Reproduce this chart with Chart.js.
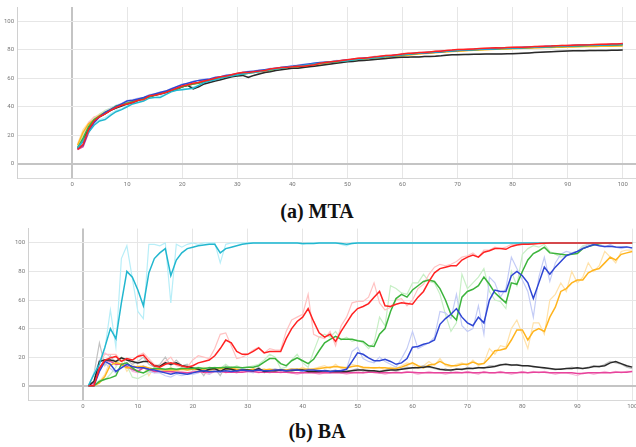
<!DOCTYPE html>
<html>
<head>
<meta charset="utf-8">
<script src="https://cdn.jsdelivr.net/npm/chart.js@4.4.1/dist/chart.umd.min.js"></script>
<style>
html,body{margin:0;padding:0;background:#fff;overflow:hidden;width:636px;height:447px;}
#wrap{position:relative;width:636px;height:447px;overflow:hidden;}
canvas{position:absolute;left:0;}
.cap{position:absolute;left:-1px;width:636px;text-align:center;font-family:"Liberation Serif","DejaVu Serif",serif;font-weight:bold;font-size:20px;line-height:20px;color:#111;}
</style>
</head>
<body>
<div id="wrap">
<canvas id="c1" width="680" height="192" style="top:0px;width:680px;height:192px;"></canvas>
<div class="cap" style="top:201px;">(a) MTA</div>
<canvas id="c2" width="680" height="192" style="top:222px;width:680px;height:192px;"></canvas>
<div class="cap" style="top:421px;">(b) BA</div>
</div>
<script>
// ---- categories / ticks ----
const steps = [1,2,3,4,5,6,7,8,9,10,11,12,13,14,15,16,17,18,19,20,21,22,23,24,25,26,27,28,29,30,31,32,33,34,35,36,37,38,39,40,41,42,43,44,45,46,47,48,49,50,51,52,53,54,55,56,57,58,59,60,61,62,63,64,65,66,67,68,69,70,71,72,73,74,75,76,77,78,79,80,81,82,83,84,85,86,87,88,89,90,91,92,93,94,95,96,97,98,99,100];
const xTicks = [0,10,20,30,40,50,60,70,80,90,100];
const yTicks = [0,20,40,60,80,100];

// ---- (a) MTA : smoothed series ----
const mtaRed = [10,13.5,24,30,33,35,37.5,39.5,41,42, 43,44.5,45,47.5,48,49,50,51.5,53,54.5, 55.5,56.5,57,58,59,60,61,61.5,62.5,63.5, 64,64,64.5,65,65.5,66.5,67,67.5,67.5,68, 68.5,68.5,69,69.5,70.5,71,71.5,72,72.5,73, 73.5,74,74,74.5,75,75.5,76,76,76.5,77, 77.5,77.5,78,78,78.5,79,79,79.5,79.8,80.2, 80.2,80.4,80.6,80.8,81,81.2,81.4,81.3,81.5,81.7, 81.8,81.8,82,82.2,82.3,82.5,82.6,82.8,83,83, 83.2,83.3,83.4,83.5,83.7,83.8,83.9,84,84.1,84.3];
const mtaBlue = [10.5,13,23,29,33,36,38,40,42,44, 44.5,45.5,46.5,48,49,50,51,52.5,54,55.5, 56.5,57.5,58.5,59,59.5,60.5,61,62,62.5,63, 64,64.5,65,65.5,66,66.5,67,67.5,68,68.5, 69,69.5,70,70.5,71,71.3,71.6,72,72.4,72.8, 73.2,73.6,74,74.3,74.7,75,75.4,75.8,76.2,76.6, 77,77.3,77.5,77.8,78,78.3,78.6,79,79.3,79.5, 79.8,80,80.1,80.3,80.4,80.6,80.8,81,81.1,81.3, 81.4,81.6,81.7,81.9,82,82.2,82.3,82.5,82.6,82.7, 82.9,83,83.1,83.2,83.3,83.4,83.5,83.6,83.7,83.8];
const mtaGreen = [11,18,26,31,33.5,36,38,40.5,41.5,42.5, 43.5,44.5,46,47,48,49.5,50.5,51.5,52.5,54, 55,56,56.5,57.5,58.5,59.5,60.5,61,62,62.5, 63,63.5,64.5,65,65.5,66,66.5,67,67.5,68, 68.5,69,69.5,70,70.5,70.8,71.2,71.6,72,72.5, 73,73.4,73.8,74.2,74.6,75,75.3,75.6,76,76.5, 76.9,77.2,77.5,77.8,78,78.3,78.6,78.9,79.2,79.5, 79.7,79.9,80,80.2,80.3,80.5,80.6,80.8,80.9,81.1, 81.2,81.4,81.5,81.7,81.8,82,82.1,82.2,82.3,82.5, 82.6,82.7,82.8,82.9,83,83.1,83.2,83.3,83.4,83.5];
const mtaOrange = [13,22,28,31,34,36,38,40,41,42.5, 43.5,44.5,45.5,47,48.5,49.5,50.5,51.5,52.5,54, 55,56,57,58,58.5,59.5,60,61,61.5,62.5, 63,63.5,64,64.5,65,65.5,66,66.5,67,67.5, 68,68.5,69,69.5,70,70.5,71,71.3,71.6,72, 72.4,72.8,73.2,73.6,74,74.3,74.7,75,75.4,75.8, 76.2,76.6,77,77.3,77.6,77.9,78.2,78.5,78.8,79, 79.2,79.4,79.6,79.8,80,80.1,80.3,80.4,80.6,80.7, 80.9,81,81.1,81.3,81.4,81.5,81.6,81.7,81.8,81.9, 82,82.1,82.2,82.2,82.3,82.4,82.4,82.5,82.6,82.6];
const mtaCyan = [11,16,22,27,30,31,34,36.5,38,40, 42,43,44,46,46.5,46.5,48.5,50.5,51.5,52, 52.5,53,55,57,58,59,60,61,61.5,62.5, 63,63.5,64,64.5,65.5,66,66.5,67,67.5,68, 68.5,69,69.5,70,70.5,71,71.5,71.8,72,72.3, 72.8,73.3,73.7,74,74.3,74.7,75.2,75.6,76,76.5, 76.9,77.3,77.6,77.9,78.2,78.5,78.8,79,79.3,79.6, 79.8,80,80.1,80.3,80.5,80.6,80.7,80.9,81,81.2, 81.3,81.5,81.6,81.8,82,82.1,82.3,82.4,82.5,82.7, 82.8,82.9,83,83.1,83.2,83.3,83.4,83.5,83.6,83.7];
const mtaBlack = [11,16,25,30,33,35,37.5,39,40.5,42, 43,44.5,46,47,48,49,50,51,52.5,54, 55,52.5,54,56,57,58,59,60,61,61.5, 62,60.5,62,63,64,64.5,65.5,66,66.5,67, 67,67.5,68,68.5,69,69.5,70,70.5,71,71.5, 71.8,72.2,72.5,72.8,73.2,73.5,73.8,74.2,74.5,74.8, 74.8,75,75,75.2,75.3,75.5,75.8,76.2,76.5,76.5, 76.6,76.7,76.8,76.9,77,77,77.1,77.1,77.2,77.2, 77.4,77.6,77.8,78,78.2,78.4,78.6,78.8,79,79.2, 79.3,79.3,79.3,79.4,79.4,79.5,79.5,79.6,79.7,79.8];
const mtaMagenta = [10,12,22,29,33,35.5,37.5,39.5,41,42.5, 43.5,45,46,47,48.5,49.5,50.5,51.5,53,54, 55,56,57,58,59,59.5,60.5,61,62,63, 63.5,64,64.5,65,65.5,66,66.5,67,67.5,68, 68.5,69,69.5,70,70.5,71,71.5,71.8,72.2,72.7, 73.2,73.6,74,74.4,74.8,75.2,75.6,75.9,76.3,76.7, 77.1,77.4,77.7,78,78.3,78.6,78.9,79.2,79.5,79.8, 80,80.2,80.3,80.5,80.7,80.8,81,81.1,81.3,81.4, 81.6,81.7,81.9,82,82.2,82.3,82.5,82.6,82.7,82.9, 83,83.1,83.2,83.3,83.4,83.5,83.6,83.7,83.8,84];
// ---- (a) MTA : raw series ----
const mtaRedRaw = [11,18,29,33,34,35.5,38,40,41.5,42.5, 43.5,45,45,48,48,49.5,50,52,53,55, 55.5,57,57,58.5,59,60.5,61,61.5,63,63.5, 64.5,64,64.5,65.5,65.5,67,67,67.5,68,68, 69,68.5,69,70,70.5,71.5,71.5,72,73,73, 73.5,74.5,74,74.5,75.5,75.5,76,76.5,76.5,77.5, 77.5,78,78,78.5,78.5,79,79.5,79.5,80,80.2, 80.5,80.4,80.8,80.8,81.2,81.2,81.5,81.3,81.7,81.7, 82,81.8,82.2,82.2,82.5,82.5,82.8,82.8,83.2,83, 83.4,83.3,83.6,83.5,83.8,83.8,84,84,84.2,84.3];
const mtaBlueRaw = [11,15,25,31,34,36.5,39,41,42.5,44.5, 45,46,46.5,48.5,49,50.5,51,53,54,56, 56.5,58,58.5,59.5,59.5,61,61,62.5,62.5,63.5, 64,65,65,66,66,67,67,68,68,69, 69,70,70,71,71,71.5,71.6,72.5,72.4,73.2, 73.2,74,74,74.6,74.7,75.4,75.4,76.2,76.2,77, 77,77.6,77.5,78.2,78,78.6,78.6,79.3,79.3,79.8, 79.8,80.2,80.1,80.5,80.4,80.8,80.8,81.2,81.1,81.5, 81.4,81.8,81.7,82.1,82,82.4,82.3,82.7,82.6,82.9, 82.9,83.2,83.1,83.4,83.3,83.6,83.5,83.8,83.7,83.9];
const mtaGreenRaw = [12,20,28,32,35,37.5,39,41,41.5,43, 43.5,45,46,47.5,48,50,50.5,52,52.5,54.5, 55,56.5,56.5,58,58.5,60,60.5,61.5,62,63, 63,64,64.5,65.5,65.5,66.5,66.5,67.5,67.5,68.5, 68.5,69.5,69.5,70.5,70.5,71.2,71.2,72,72,72.8, 73,73.7,73.8,74.5,74.6,75.3,75.3,75.9,76,76.8, 76.9,77.5,77.5,78.1,78,78.6,78.6,79.2,79.2,79.8, 79.7,80.1,80,80.4,80.3,80.7,80.6,81,80.9,81.3, 81.2,81.6,81.5,81.9,81.8,82.2,82.1,82.4,82.3,82.7, 82.6,82.9,82.8,83.1,83,83.3,83.2,83.5,83.4,83.6];
const mtaOrangeRaw = [14,24,29,32,35,36.5,39,40.5,41.5,43, 43.5,45,45.5,47.5,48.5,50,50.5,52,52.5,54.5, 55,56.5,57,58.5,58.5,60,60,61.5,61.5,63, 63,64,64,65,65,66,66,67,67,68, 68,69,69,70,70,71,71,71.6,71.6,72.3, 72.4,73.1,73.2,73.9,74,74.6,74.7,75.3,75.4,76.1, 76.2,76.9,77,77.6,77.6,78.2,78.2,78.8,78.8,79.2, 79.2,79.6,79.6,80,80,80.3,80.3,80.6,80.6,80.9, 80.9,81.2,81.1,81.5,81.4,81.7,81.6,81.9,81.8,82.1, 82,82.3,82.2,82.4,82.3,82.6,82.4,82.7,82.6,82.8];
const mtaCyanRaw = [12,18,24,28,31,32.5,35,37.5,38.5,41, 42.5,43.5,44.5,46.5,46.5,47.5,49,51,51.5,53, 52.5,54,55,57.5,58,59.5,60,61.5,61.5,63, 63,64,64,65,65.5,66.5,66.5,67.5,67.5,68.5, 68.5,69.5,69.5,70.5,70.5,71.5,71.5,72.2,72,72.6, 72.8,73.6,73.7,74.3,74.3,75,75.2,75.9,76,76.8, 76.9,77.6,77.6,78.2,78.2,78.8,78.8,79.3,79.3,79.8, 79.8,80.2,80.1,80.5,80.5,80.8,80.7,81.1,81,81.4, 81.3,81.7,81.6,82,82,82.3,82.3,82.6,82.5,82.9, 82.8,83.1,83,83.3,83.2,83.5,83.4,83.7,83.6,83.8];
const mtaBlackRaw = [12,18,26,31,34,36,38,40,41,42.5, 43.5,45,46,47.5,48,49.5,50,51.5,52.5,54.5, 55,53.5,54,56.5,57,58.5,59,60.5,61,62, 62,61,62,63.5,64,65,65.5,66.5,66.5,67.5, 67,68,68,69,69,70,70,71,71,71.8, 71.8,72.5,72.5,73.1,73.2,73.8,73.8,74.5,74.5,75, 74.8,75.2,75,75.4,75.3,75.8,75.8,76.5,76.5,76.7, 76.6,76.9,76.8,77.1,77,77.2,77.1,77.3,77.2,77.4, 77.4,77.8,77.8,78.2,78.2,78.6,78.6,79,79,79.3, 79.3,79.5,79.3,79.6,79.4,79.7,79.5,79.8,79.7,80];
const mtaMagentaRaw = [11,16,26,31,34,36.5,38,40.5,41,43, 43.5,45.5,46,47.5,48.5,50,50.5,52,53,54.5, 55,56.5,57,58.5,59,60,60.5,61.5,62,63.5, 63.5,64.5,64.5,65.5,65.5,66.5,66.5,67.5,67.5,68.5, 68.5,69.5,69.5,70.5,70.5,71.5,71.5,72.2,72.2,73, 73.2,73.9,74,74.7,74.8,75.5,75.6,76.2,76.3,77, 77.1,77.7,77.7,78.3,78.3,78.9,78.9,79.5,79.5,80, 80,80.4,80.3,80.7,80.7,81,81,81.3,81.3,81.6, 81.6,81.9,81.9,82.2,82.2,82.5,82.5,82.8,82.7,83, 83,83.3,83.2,83.5,83.4,83.7,83.6,83.9,83.8,84.1];

// ---- (b) BA : smoothed series ----
const baCyan = [0,8,15,27,40,33,58,80,76,67, 56,79,89,93,96,77,88,93,96,97, 98,98.5,99,99,93,96,97,98,99,99.5, 100,100,100,100,100,100,100,100,100,99.5, 99.5,99.5,100,100,100,100,99.5,99,99.5,100, 100,100,100,100,100,100,100,100,100,100, 100,100,100,100,100,100,100,100,100,100, 100,100,100,100,100,100,100,100,100,100, 100,100,100,100,100,100,100,100,100,100, 100,100,100,100,100,100,100,100,100,100];
const baRed = [0,0,12,18,19.5,20.5,17,19,18,20.5, 21.5,17,14,13,15,16,15,14,13,14, 16,17,18,21,26,32,30,24,22,22, 24,26.5,23,24,24,24,33,40,45,48, 54,45,37,34,36,31,38,44,50,54, 55.5,57.5,62,66,56,55.5,57,58,57.5,57, 62,66,73,79,82,83,84,84,88,90, 91.5,90,93.5,94.5,96,96,95.5,97.5,98.5,99, 99,99.3,99.5,99.8,100,100,100,100,100,100, 100,100,100,100,100,100,100,100,100,100];
const baGreen = [0,0,3,4.5,5.5,7,15,16,12.5,10, 9,11,12,12,11.5,12,11.5,12,12,12, 12.5,12,12.5,12.5,12.5,13,13,13,12.5,13, 13,14,16.5,19,19,15.5,14,17.5,19.5,17.5, 15.5,18.5,24.5,30,32.5,34.5,32.5,32.5,32.5,31.5, 31,28,27.5,36,40,52,61,64,62,67, 70,73,74,73,68,60,50,46,62,66, 67.5,70,76,71,65,61.5,58,72,71,80, 88,92.5,94.5,97,93,92.5,92,91.5,92,92.5, 96,97.5,98.5,99.3,100,100,100,100,100,100];
const baBlue = [0,0,10,17,15,10,12.5,15,13.5,12.5, 12.5,11.5,11,10,9,8,9,8.5,8,9, 10,10.5,10,10,10,10.5,10,10.5,11,10.5, 10.5,11,10.5,10.5,11,11,10.5,11,11,10.5, 11,11,10.5,10.5,10,10.5,10.5,11.5,17,23, 22,19.5,17.5,17.5,18.5,17,15,16,19,27, 27.5,29,30,32,43,47,50,54,48,44, 42,48,44,60,67,66,66,77,80,77, 72,61,72,83,78,83,87,91,92.5,94, 96,97.5,98.8,98,97.5,97.7,97.2,97,97.2,96.5];
const baOrange = [0,0,2,6.5,14.5,16,15,12.5,13,13.5, 13.5,12.5,11.5,11.5,11,11,11,11.5,11,11.5, 11.5,11,11,11.5,12,11.5,12,11.5,11,11, 11.5,11,11,11.5,11,11,11,11.5,11.5,11.5, 11.5,11.5,12,12.5,13,13.5,13,12.5,13.5,14, 13,12.5,12.5,12.5,12.5,12,12,13,14.5,16, 14,12.5,14.5,15,17,15,14,14,15,15, 16.5,15,15.5,19.5,24.5,25,26,32,39,39, 32,38,40,38,48,55,66,68,72,74, 74,79,81,82,86,90,88,92,93,94];
const baBlack = [0,3,17,18,18,17,19.5,18,17,16, 17,17,14,13.5,16,15,16,14,13.5,12.5, 11.5,10,11.5,12,10,12,11.5,10.5,11,11, 10.5,12,10,10.5,10.5,11,10.5,10.5,11,11, 10,10,10,10.5,10,10,10,10,10.5,11, 11,10.5,10.5,10,10.5,11,11,11.5,12,12.5, 12.5,13,13.5,12.5,11.5,11,11,11.5,11.5,12, 12,12.5,12.5,13,13.5,14.5,15,14.5,14.5,14, 14,13.5,13,12.5,12,11.5,11.5,12,12,12.5, 12,12.5,13.5,13.5,14,16,17,15.5,14,13];
const baMagenta = [0,2,12.5,18,17,15,15,13.5,11.5,10, 12.5,11.5,10,10,10,10,9.5,9.5,9,9.5, 10,9.5,9.5,10,10,9.5,9.5,9.5,9.5,10, 10,9.5,9.5,9.5,9.5,9.5,9.5,9,9,9, 9,9,9,9,9,9,9,9,9,9, 9,9.5,9.5,9,9,9,9,9,9.5,9.5, 9,9,9,9,9,9,9,9,9,9.5, 9,9,9.5,9,9,9.5,9,9,9,9.5, 9,9.5,9.5,9.5,9,9,9,9,9,8.5, 8.5,9,9,9,9,9,9.5,9.5,9.5,10];
// ---- (b) BA : raw series ----
const baCyanRaw = [0,9,17,26,53,27,89,98,75,52, 47,99,99,98,100,58,99,97,99,100, 99,100,100,100,86,99,100,100,100,100, 100,100,100,100,100,100,100,100,100,99, 100,100,100,100,100,100,99,98,100,100, 100,100,100,100,100,100,100,100,100,100, 100,100,100,100,100,100,100,100,100,100, 100,100,100,100,100,100,100,100,100,100, 100,100,100,100,100,100,100,100,100,100, 100,100,100,100,100,100,100,100,100,100];
const baRedRaw = [0,2,16,22,22,22,17,19,17,21, 23,19,15,14,17,20,14,13,13,18, 21,20,19,26,36,37,28,19,20,22, 25,27,23,26,25,25,38,46,48,50, 64,36,34,33,38,28,42,48,58,59, 59,62,72,58,53,55,60,61,56,60, 68,71,78,83,85,84,85,87,90,91, 93,90,95,95,97,96,97,99,99,100, 99,100,100,100,100,100,100,100,100,100, 100,100,100,100,100,100,100,100,100,100];
const baGreenRaw = [0,0,4,4,8,13,20,14,6,5, 7,9,13,11,10,12,10,13,12,12, 13,12,12,13,12,15,12,14,12,13, 14,15,18,22,20,12,13,18,22,16, 13,24,34,36,34,38,32,34,31,32, 30,26,30,48,42,70,68,65,64,72, 72,78,73,72,64,50,38,44,78,68, 72,76,82,66,60,59,54,80,70,92, 96,98,97,99,94,92,90,91,93,94, 98,99,99,100,100,100,100,100,100,100];
const baBlueRaw = [0,0,12,16,12,9,14,13,11,10, 14,10,9,9,7,6,8,7,8,8, 9,12,8,11,9,12,10,9,12,10, 9,12,10,11,12,10,10,12,11,10, 12,10,11,10,9,10,11,12,24,27, 19,17,16,20,17,15,13,19,26,38, 26,28,30,34,52,51,47,64,42,38, 40,56,36,76,72,62,68,90,82,74, 66,48,76,90,73,86,92,94,93,94, 97,99,100,98,97,99,97,96,97,96];
const baOrangeRaw = [0,0,3,8,18,14,18,10,15,12, 14,7,13,12,9,13,10,12,11,12, 10,13,11,12,13,10,13,11,12,10, 12,11,12,10,12,11,11,12,11,13, 11,12,13,14,12,15,12,13,15,14, 12,13,12,13,11,13,12,14,16,15, 12,14,17,14,19,14,13,15,16,14, 18,14,16,26,22,28,27,40,46,36, 26,44,44,36,60,64,72,66,80,72, 76,86,80,84,94,90,86,94,95,95];
const baBlackRaw = [0,8,30,14,21,16,20,18,15,17, 20,15,13,15,20,14,18,14,15,11, 12,7,13,12,7,14,11,10,12,11, 10,13,9,11,10,12,10,11,12,9, 10,11,9,11,10,11,9,10,11,12, 10,11,10,9,11,12,10,12,13,12, 13,14,13,12,11,12,10,12,11,13, 12,13,12,14,14,15,15,14,15,14, 14,13,13,12,12,11,12,12,13,12, 12,13,14,13,15,17,16,15,13,12];
const baMagentaRaw = [0,3,18,23,20,17,14,15,10,9, 14,12,9,11,10,9,10,9,8,10, 11,9,8,10,11,9,10,9,10,11, 10,9,10,9,10,9,10,9,8,9, 10,9,8,9,9,10,9,8,9,10, 9,10,9,9,8,9,10,9,10,9, 8,9,10,9,9,8,9,10,9,10, 9,8,10,9,9,10,9,8,9,10, 9,10,9,10,9,8,9,9,8,7, 9,9,8,9,10,9,10,9,10,10];

// ---- colours ----
const COL = {
  red:['#ff2222','#ffc2c2'], blue:['#2f46d4','#c4ccf6'], green:['#3cb43c','#c8efc6'],
  orange:['#ffb41e','#ffe2ab'], cyan:['#22b7cf','#b8eef8'], black:['#2a2a2a','#c2c2c2'],
  magenta:['#e8449c','#f7bcdc']
};

function pts(vals){ return steps.map((x,i)=>({x:x,y:vals[i]})); }
function ds(vals,color,light){
  return {data:pts(vals),borderColor:color,backgroundColor:color,borderWidth:light?1.2:1.5,
    pointRadius:0,tension:0,fill:false};
}

// Chart.js paints dataset 0 last (on top): list smoothed (top-most first), then raw.
function makeChart(id, raw, smooth, axisW, padTop, xMax){
  const datasets = [];
  smooth.forEach(([v,c])=>datasets.push(ds(v,COL[c][0],false)));
  raw.forEach(([v,c])=>datasets.push(ds(v,COL[c][1],true)));
  return new Chart(document.getElementById(id),{
    type:'line',
    data:{datasets:datasets},
    options:{
      responsive:false,animation:false,
      layout:{padding:{top:padTop,left:0,right:0,bottom:0}},
      plugins:{legend:{display:false},tooltip:{enabled:false}},
      scales:{
        x:{type:'linear',min:-10,max:xMax,
          afterBuildTicks:s=>{s.ticks=xTicks.map(v=>({value:v}));},
          afterFit:s=>{s.height=14;},
          grid:{drawTicks:false,color:c=>c.tick&&c.tick.value===0?'#c4c4c4':'#e6e6e6',lineWidth:c=>c.tick&&c.tick.value===0?2:1},
          border:{display:true,color:'#d8d8d8',width:1},
          ticks:{padding:3,color:'#777',font:{family:'Roboto',size:6},maxRotation:0,autoSkip:false}},
        y:{type:'linear',min:-10,max:110,
          afterBuildTicks:s=>{s.ticks=yTicks.map(v=>({value:v}));},
          afterFit:s=>{s.width=axisW;},
          grid:{drawTicks:false,color:c=>c.tick&&c.tick.value===0?'#c4c4c4':'#e6e6e6',lineWidth:c=>c.tick&&c.tick.value===0?2:1},
          border:{display:true,color:'#d0d0d0',width:1},
          ticks:{padding:3,color:'#777',font:{family:'Roboto',size:6}}}
      }
    }
  });
}

makeChart('c1',
  [[mtaRedRaw,'red'],[mtaCyanRaw,'cyan'],[mtaBlueRaw,'blue'],[mtaGreenRaw,'green'],[mtaBlackRaw,'black'],[mtaOrangeRaw,'orange'],[mtaMagentaRaw,'magenta']],
  [[mtaRed,'red'],[mtaCyan,'cyan'],[mtaBlue,'blue'],[mtaGreen,'green'],[mtaBlack,'black'],[mtaOrange,'orange'],[mtaMagenta,'magenta']],
  17, 7, 110.4);
makeChart('c2',
  [[baRedRaw,'red'],[baCyanRaw,'cyan'],[baBlueRaw,'blue'],[baGreenRaw,'green'],[baBlackRaw,'black'],[baOrangeRaw,'orange'],[baMagentaRaw,'magenta']],
  [[baRed,'red'],[baCyan,'cyan'],[baBlue,'blue'],[baGreen,'green'],[baBlack,'black'],[baOrange,'orange'],[baMagenta,'magenta']],
  28, 6, 108.7);
</script>
</body>
</html>
